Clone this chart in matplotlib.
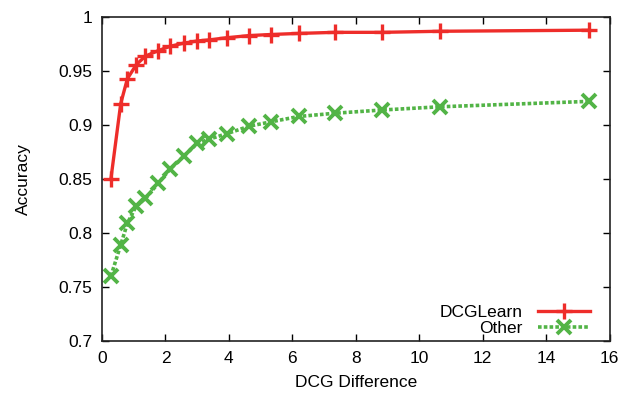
import matplotlib
matplotlib.use('Agg')
import matplotlib.pyplot as plt

# dcg difference bins (shared by both curves)
dcg_diff = [0.28, 0.59, 0.80, 1.08, 1.37, 1.77, 2.14, 2.57, 3.00, 3.38,
            3.93, 4.64, 5.32, 6.20, 7.34, 8.82, 10.66, 15.35]

acc_dcglearn = [0.850, 0.920, 0.943, 0.956, 0.964, 0.969, 0.973, 0.976, 0.978, 0.979,
                0.981, 0.983, 0.984, 0.985, 0.986, 0.986, 0.987, 0.988]
acc_other = [0.760, 0.789, 0.809, 0.825, 0.832, 0.846, 0.859, 0.871, 0.883, 0.887,
             0.892, 0.899, 0.903, 0.908, 0.911, 0.914, 0.917, 0.922]

xticks = [0, 2, 4, 6, 8, 10, 12, 14, 16]
yticks = [0.7, 0.75, 0.8, 0.85, 0.9, 0.95, 1.0]
yticklabels = ['0.7', '0.75', '0.8', '0.85', '0.9', '0.95', '1']

plt.rcParams['font.family'] = ['Liberation Sans', 'DejaVu Sans']
fs = 12.5

fig = plt.figure(figsize=(6.22, 4.01), dpi=100)
ax = fig.add_axes([0.164, 0.15, 0.816, 0.807])

ax.plot(dcg_diff, acc_dcglearn, color='#ee2d2a', lw=2.4, marker='+', ms=11, mew=2.4,
        label='DCGLearn')
ax.plot(dcg_diff, acc_other, color='#52b446', lw=2.6, ls=(0, (1, 0.6)), marker='x', ms=10,
        mew=2.8, label='Other')

ax.set_xlim(0, 16)
ax.set_ylim(0.7, 1.0)
ax.set_xticks(xticks)
ax.set_yticks(yticks)
ax.set_yticklabels(yticklabels)
ax.tick_params(direction='in', top=True, right=True, length=5, width=1, labelsize=fs, pad=7)
for s in ax.spines.values():
    s.set_linewidth(1.2)
    s.set_color('#222222')

ax.set_xlabel('DCG Difference', fontsize=fs, labelpad=7)
ax.set_ylabel('Accuracy', fontsize=fs, labelpad=20)

leg = ax.legend(loc='lower right', bbox_to_anchor=(0.972, 0.0), frameon=False,
                markerfirst=False, fontsize=fs, handlelength=3.0, borderaxespad=0.0,
                labelspacing=0.0, handletextpad=0.9, borderpad=0.3)

fig.savefig('out.png', dpi=100)
